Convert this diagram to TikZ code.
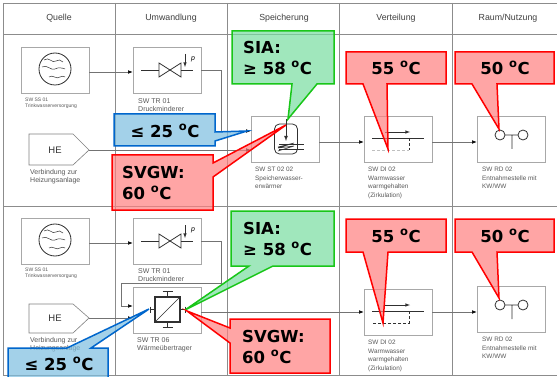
\documentclass[tikz,border=0pt]{standalone}
\usepackage{fontspec}
\setmainfont{Liberation Sans}
\newfontfamily\callfont{DejaVu Sans}[BoldFont={DejaVu Sans Bold}]
\usetikzlibrary{arrows.meta}
\definecolor{gridgray}{HTML}{8C8C8C}
\definecolor{boxgray}{HTML}{A8A8A8}
\definecolor{symbolgray}{HTML}{303030}
\definecolor{callred}{HTML}{FF8080}
\definecolor{callgreen}{HTML}{79DDA0}
\definecolor{callblue}{HTML}{7DBEE0}
\tikzset{
  >=latex,
  grid line/.style = {draw=gridgray, line width=.7pt},
  flow/.style = {draw=black!55, line width=.45pt, -{Latex[black,length=4.5pt,width=3.5pt]}},
  box/.style = {draw=boxgray, line width=.7pt, minimum width=68pt,
                minimum height=46pt, inner sep=0},
  hebox/.style = {draw=gray, line width=.6pt, fill=white},
  hetext/.style = {inner sep=0, font=\fontsize{9.5}{11}\selectfont, text=black!80},
  head/.style = {font=\fontsize{8.8}{10}\selectfont, text=black!75, inner sep=0},
  caption/.style = {font=\fontsize{6.4}{8.5}\selectfont, text=black!65, align=left,
                    anchor=north west, inner sep=0},
  wide caption/.style = {caption, font=\fontsize{7}{8.5}\selectfont},
  tiny caption/.style = {caption, font=\fontsize{5}{6}\selectfont},
  symbol/.style = {draw=symbolgray, line width=.8pt},
  redcall/.style = {draw=red, line width=1.5pt, fill=callred, fill opacity=.7,
                    line join=miter},
  greencall/.style = {redcall, draw=green!75!black!90, fill=callgreen},
  bluecall/.style = {redcall, draw=blue!50!cyan!80!black, fill=callblue},
  calltext/.style = {font=\callfont\bfseries\fontsize{16.5}{20.5}\selectfont,
                     align=left, inner sep=0, text=black},
  globe/.pic = {
    \draw[symbol] (0,0) circle (16);
    \draw[symbol, line width=.5pt] (-11,-9) .. controls (-6,-13) and (-3,-5) .. (1,-8) .. controls (3,-10) and (6,-9) .. (8,-7);
    \draw[symbol, line width=.5pt] (-13,-2) .. controls (-8,-5) and (-4,2) .. (0,0) .. controls (3,-2) and (8,-1) .. (10,0);
    \draw[symbol, line width=.5pt] (-6,8) .. controls (-2,5) and (1,11) .. (5,8) .. controls (7,7) and (9,7) .. (10,8);
  },
  valve/.pic = {
    \draw[symbol] (-29,0) -- (-11,0) (11,0) -- (23,0);
    \draw[symbol] (-11,-7) -- (11,7) -- (11,-7) -- (-11,7) -- cycle;
    \draw[symbol, line width=.6pt, ->] (15,-16) -- (15,-3);
    \node[inner sep=0, font=\fontsize{7}{7}\selectfont\itshape] (p) at (23,-11) {p};
  },
  tank/.pic = {
    \draw[symbol, rounded corners=5pt] (-11.5,-15) -- (11.5,-15) -- (11.5,15) -- (-11.5,15) -- cycle;
    \draw[symbol, ->] (0,-20) -- (0,2);
    \draw[symbol] (-7,5) -- (18,5) (-7,10) -- (18,10);
    \draw[symbol, line width=.6pt] (-8,8) -- (8,4) -- (-8,9) -- (8,7) -- (-8,12);
  },
  exchanger/.pic = {
    \draw[symbol, line width=1.1pt] (-12.5,-12.5) rectangle (12.5,12.5);
    \draw[symbol, line width=.5pt] (-12.5,12.5) -- (12.5,-12.5);
    \draw[symbol] (0,-12.5) -- (0,-18) (-5,-18) -- (5,-18)
      (0,12.5) -- (0,18) (-5,18) -- (5,18)
      (-12.5,0) -- (-17.5,0) (-17.5,-3) -- (-17.5,3)
      (12.5,0) -- (17.5,0) (17.5,-3) -- (17.5,3);
  },
  tap/.pic = {
    \draw[symbol] (0,0) circle (5) (23,0) circle (5) (5,0) -- (18,0) (12,0) -- (12,14);
  },
}
\begin{document}
\begin{tikzpicture}[x=1pt,y=-1pt]
\clip (0,0) rectangle (557,377);
\fill[white] (0,0) rectangle (557,377);

% table
\draw[grid line] (3,375) -- (3,3) -- (557,3) (3,34) -- (557,34) (3,206) -- (557,206) (3,375) -- (557,375);
\draw[grid line] (115,3) -- (115,375) (227,3) -- (227,375) (339,3) -- (339,375) (452,3) -- (452,375);
\node[head] (quelle) at (59,18) {Quelle};
\node[head] (umwandlung) at (171,18) {Umwandlung};
\node[head] (speicherung) at (284,18) {Speicherung};
\node[head] (verteilung) at (396,18) {Verteilung};
\node[head] (nutzung) at (508,18) {Raum/Nutzung};

% upper row
\node[box] (ss1) at (55,70) {};
\node[box] (tr1) at (167,70) {};
\node[box] (st1) at (285,139) {};
\node[box] (di1) at (398,139) {};
\node[box] (rd1) at (511,139) {};
\draw[hebox] (29,134) -- (73,134) -- (89,150) -- (73,165) -- (29,165) -- cycle;
\coordinate (he1tip) at (89,150);
\coordinate (turn1) at (221,70);
\coordinate (turn2) at (221,131);
\node[hetext] (he1) at (55,150) {HE};
\draw[flow] ([yshift=-2pt]ss1.east) -- ([yshift=-2pt]tr1.west);
\draw[flow] (tr1.east) -- (turn1) -- (turn2) -- ([yshift=8pt]st1.west);
\draw[flow] (he1tip) -- ([yshift=-11pt]st1.west);
\draw[flow] ([yshift=-3pt]st1.east) -- ([yshift=-3pt]di1.west);
\draw[flow] ([yshift=-3pt]di1.east) -- ([yshift=-3pt]rd1.west);

\pic at (55,69) {globe};
\pic at (170,70) {valve};
\pic at (286,139) {tank};
\draw[symbol] (372,138) -- (424,138);
\draw[symbol, line width=.6pt, ->] (385,132) -- (410,132);
\draw[symbol, densely dashed, line width=.6pt] (409,138) -- (409,150);
\draw[gray!50, densely dashed, line width=.6pt] (372,150) -- (409,150);
\pic at (500,135) {tap};

\node[tiny caption] (ss1c) at (25,98) {SW SS 01\\Trinkwasserversorgung};
\node[wide caption] (tr1c) at (138,98) {SW TR 01\\Druckminderer};
\node[wide caption] (he1c) at (30,169) {Verbindung zur\\Heizungsanlage};
\node[caption] (st1c) at (255,167) {SW ST 02 02\\Speicherwasser-\\erwärmer};
\node[caption] (di1c) at (368,167) {SW DI 02\\Warmwasser\\warmgehalten\\(Zirkulation)};
\node[caption] (rd1c) at (482,167) {SW RD 02\\Entnahmestelle mit\\KW/WW};

% lower row
\node[box] (ss2) at (55,241) {};
\node[box] (tr2) at (167,241) {};
\node[box] (tr3) at (167,310) {};
\node[box] (di2) at (398,312) {};
\node[box] (rd2) at (511,309) {};
\draw[hebox] (29,304) -- (73,304) -- (89,318) -- (73,333) -- (29,333) -- cycle;
\coordinate (he2tip) at (89,318);
\coordinate (turn3) at (221,241);
\coordinate (turn4) at (221,283);
\coordinate (turn5) at (121,283);
\coordinate (turn6) at (121,306);
\node[hetext] (he2) at (55,318) {HE};
\draw[flow] ([yshift=-2pt]ss2.east) -- ([yshift=-2pt]tr2.west);
\draw[flow] (tr2.east) -- (turn3) -- (turn4) -- (turn5) -- (turn6) -- ([yshift=4pt]tr3.west);
\draw[flow] (he2tip) -- ([yshift=-8pt]tr3.west);
\draw[flow] ([yshift=-2pt]tr3.east) -- (di2.west);
\draw[flow] (di2.east) -- ([yshift=-3pt]rd2.west);

\pic at (55,240) {globe};
\pic at (170,241) {valve};
\pic at (167.5,309.5) {exchanger};
\draw[symbol] (372,311) -- (424,311);
\draw[symbol, line width=.6pt, ->] (385,305) -- (410,305);
\draw[symbol, densely dashed, line width=.8pt] (409,311) -- (409,323) -- (372,323);
\pic at (500,305) {tap};

\node[tiny caption] (ss2c) at (25,268) {SW SS 01\\Trinkwasserversorgung};
\node[wide caption] (tr2c) at (138,268) {SW TR 01\\Druckminderer};
\node[wide caption] (tr3c) at (137,337) {SW TR 06\\Wärmeübertrager};
\node[wide caption] (he2c) at (30,337) {Verbindung zur\\Heizungsanlage};
\node[caption] (di2c) at (368,340) {SW DI 02\\Warmwasser\\warmgehalten\\(Zirkulation)};
\node[caption] (rd2c) at (482,337) {SW RD 02\\Entnahmestelle mit\\KW/WW};

% callouts upper row
\draw[bluecall] (114,114) -- (215,114) -- (215,132) -- (247,131) -- (215,141) -- (215,146) -- (114,146) -- cycle;
\draw[redcall] (112,155) -- (213,155) -- (213,163) -- (286,125) -- (213,177) -- (213,210) -- (112,210) -- cycle;
\draw[greencall] (232,31) -- (334,31) -- (334,84) -- (317,84) -- (288,119) -- (292,84) -- (232,84) -- cycle;
\draw[redcall] (346,52) -- (446,52) -- (446,84) -- (387,84) -- (388,149) -- (363,84) -- (346,84) -- cycle;
\draw[redcall] (455,52) -- (554,52) -- (554,84) -- (497,84) -- (499,129) -- (472,84) -- (455,84) -- cycle;
\node[calltext] (blue1) at (165,131) {≤ 25 \textsuperscript{o}C};
\node[calltext, anchor=west] (svgw1) at (122,183) {SVGW:\\60 \textsuperscript{o}C};
\node[calltext, anchor=west] (sia1) at (243,58) {SIA:\\≥ 58 \textsuperscript{o}C};
\node[calltext] (warm1) at (396,68) {55 \textsuperscript{o}C};
\node[calltext] (raum1) at (505,68) {50 \textsuperscript{o}C};

% callouts lower row
\draw[bluecall] (8,348) -- (67,348) -- (149,309) -- (91,348) -- (108,348) -- (108,385) -- (8,385) -- cycle;
\draw[greencall] (231,211) -- (334,211) -- (334,266) -- (273,266) -- (185,310) -- (249,266) -- (231,266) -- cycle;
\draw[redcall] (230,319) -- (330,319) -- (330,373) -- (230,373) -- (230,343) -- (187,311) -- (230,328) -- cycle;
\draw[redcall] (346,219) -- (446,219) -- (446,252) -- (388,252) -- (383,323) -- (363,252) -- (346,252) -- cycle;
\draw[redcall] (455,219) -- (554,219) -- (554,252) -- (497,252) -- (499,298) -- (472,252) -- (455,252) -- cycle;
\node[calltext] (blue2) at (59,364) {≤ 25 \textsuperscript{o}C};
\node[calltext, anchor=west] (svgw2) at (242,347) {SVGW:\\60 \textsuperscript{o}C};
\node[calltext, anchor=west] (sia2) at (243,239) {SIA:\\≥ 58 \textsuperscript{o}C};
\node[calltext] (warm2) at (396,236) {55 \textsuperscript{o}C};
\node[calltext] (raum2) at (505,236) {50 \textsuperscript{o}C};
\end{tikzpicture}
\end{document}
